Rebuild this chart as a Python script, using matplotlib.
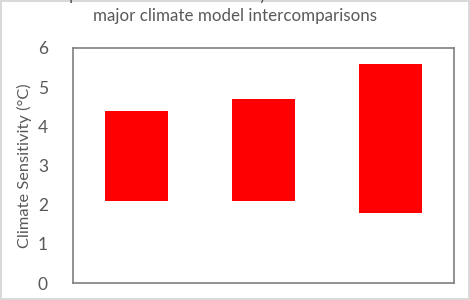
import matplotlib.pyplot as plt

plt.rcParams['font.family'] = ['Lato', 'DejaVu Sans']

# --- data ---
categories = ['CMIP3', 'CMIP5', 'CMIP6']
low_values = [2.1, 2.1, 1.8]
high_values = [4.4, 4.7, 5.6]
title = 'Spread in climate sensitivity from the last three\nmajor climate model intercomparisons'
ylabel = 'Climate Sensitivity (°C)'

text_color = '#595959'

fig = plt.figure(figsize=(4.7, 3.0), dpi=100)
fig.patch.set_facecolor('white')
fig.patch.set_edgecolor('#d9d9d9')
fig.patch.set_linewidth(1.5)

# axes box in pixels: x 73..454, y 48..283 (from top)
W, H = 470, 300
ax = fig.add_axes([73 / W, (H - 283) / H, (454 - 73) / W, (283 - 48) / H])

heights = [h - l for l, h in zip(low_values, high_values)]
x = list(range(len(categories)))
ax.bar(x, heights, bottom=low_values, width=0.5, color='#ff0000', edgecolor='none')

ax.set_xlim(-0.5, len(categories) - 0.5)
ax.set_ylim(0, 6)
ax.set_yticks(range(0, 7))
ax.set_xticks(x)
ax.set_xticklabels(categories)
ax.tick_params(axis='both', length=0, labelsize=12.5, colors=text_color)
ax.tick_params(axis='y', pad=18)
ax.tick_params(axis='x', pad=16)

for spine in ax.spines.values():
    spine.set_color('#7f7f7f')
    spine.set_linewidth(1.2)

ax.set_ylabel(ylabel, fontsize=11.8, color=text_color, labelpad=4)
fig.text(0.5, (H - 24) / H, title, ha='center', va='bottom', fontsize=12.2,
         color=text_color, linespacing=1.4)

fig.savefig('out.png', dpi=100)
